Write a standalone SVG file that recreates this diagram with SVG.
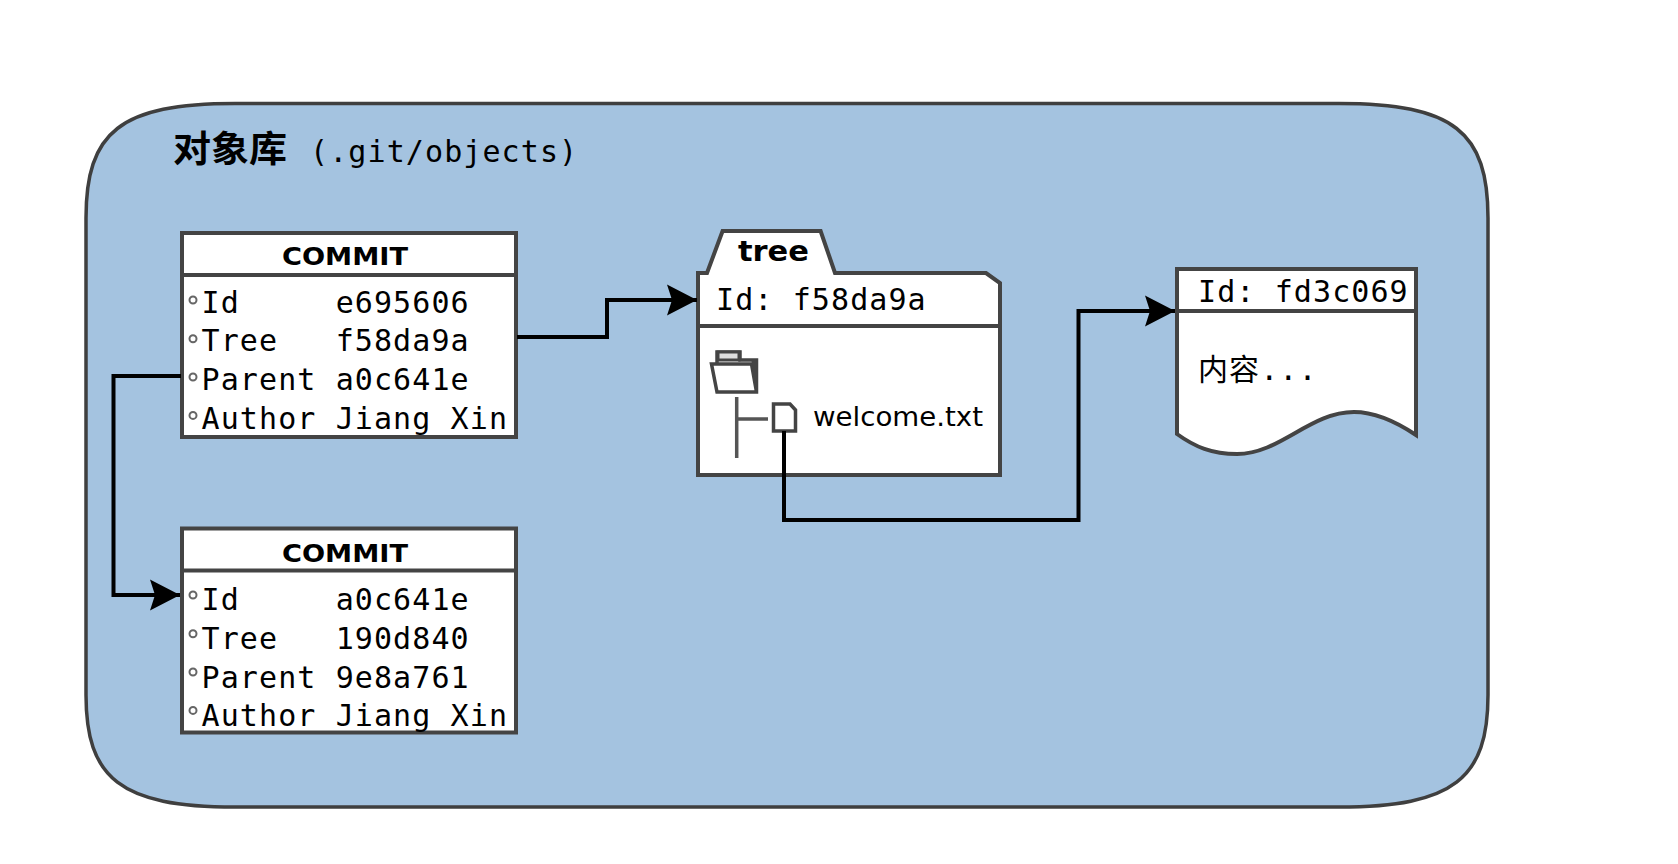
<svg xmlns="http://www.w3.org/2000/svg" width="1678" height="864" viewBox="0 0 1678 864">
<style>
.s{fill:#fff;stroke:#444;stroke-width:4;stroke-linejoin:miter}
.l{fill:none;stroke:#444;stroke-width:4}
.c{fill:none;stroke:#000;stroke-width:4;stroke-linejoin:miter}
.m{font-family:"DejaVu Sans Mono","Noto Sans CJK SC",monospace;font-size:30px;letter-spacing:1.1px;fill:#000;white-space:pre}
.h{font-family:"DejaVu Sans",sans-serif;font-weight:bold;fill:#000}
.d{fill:none;stroke:#666;stroke-width:2}
</style>
<defs>
<marker id="a" markerUnits="userSpaceOnUse" markerWidth="32" markerHeight="32" refX="31" refY="16" orient="auto">
<path d="M1,0.5 L31,16 L1,31.5 L6,16 Z" fill="#000"/>
</marker>
<g id="bullets">
<circle cx="193" cy="0" r="3.5" class="d"/><circle cx="193" cy="38.7" r="3.5" class="d"/><circle cx="193" cy="77" r="3.5" class="d"/><circle cx="193" cy="115.4" r="3.5" class="d"/>
</g>
</defs>
<rect width="1678" height="864" fill="#fff"/>
<g id="repo">
<path d="M235,103.5 H1339 C1454,103.5 1488,132 1488,218 V695 C1488,778 1454,807 1339,807 H235 C120,807 86,778 86,695 V218 C86,132 120,103.5 235,103.5 Z" fill="#a4c3e0" stroke="#3f3f3f" stroke-width="3.5"/>
<text x="173" y="162" font-family="'Noto Sans CJK SC',sans-serif" font-weight="700" font-size="36" textLength="114" lengthAdjust="spacingAndGlyphs" fill="#000">对象库</text>
<text x="310" y="162" class="m">(.git/objects)</text>
</g>
<g id="commit1">
<rect x="182" y="233" width="334" height="204" class="s"/>
<path d="M182,275 H516" class="l"/>
<text x="345" y="265" class="h" font-size="25" text-anchor="middle" textLength="126" lengthAdjust="spacingAndGlyphs">COMMIT</text>
<use href="#bullets" y="300"/>
<text x="201.5" y="313" class="m">Id     e695606</text>
<text x="201.5" y="351" class="m">Tree   f58da9a</text>
<text x="201.5" y="390" class="m">Parent a0c641e</text>
<text x="201.5" y="428.5" class="m">Author Jiang Xin</text>
</g>
<g id="commit2">
<rect x="182" y="528.5" width="334" height="204" class="s"/>
<path d="M182,570.5 H516" class="l"/>
<text x="345" y="562" class="h" font-size="25" text-anchor="middle" textLength="126" lengthAdjust="spacingAndGlyphs">COMMIT</text>
<use href="#bullets" y="595"/>
<text x="201.5" y="610" class="m">Id     a0c641e</text>
<text x="201.5" y="648.5" class="m">Tree   190d840</text>
<text x="201.5" y="687.5" class="m">Parent 9e8a761</text>
<text x="201.5" y="726" class="m">Author Jiang Xin</text>
</g>
<g id="tree">
<path d="M698,273 H707 L722.6,231 H820.6 L835,273 H986 L1000,283 V475 H698 Z" class="s"/>
<path d="M698,326 H1000" class="l"/>
<text x="738" y="261" class="h" font-size="29" textLength="71" lengthAdjust="spacingAndGlyphs">tree</text>
<text x="716" y="310" class="m">Id: f58da9a</text>
<path d="M717,364 V352 H740 V360 H756.5 V392 H717 L711.5,364 H751.5 L756.5,392" fill="#fff" stroke="#444" stroke-width="3.5"/>
<path d="M718,352 H739 V360 H718 Z" fill="#ddd" stroke="#444" stroke-width="3"/>
<path d="M751.5,361 H756 V390 Z" fill="#444"/>
<path d="M736.7,397 V458 M737,419 H768" fill="none" stroke="#555" stroke-width="3.5"/>
<path d="M773.5,404 H790 L795.5,410 V431 H773.5 Z" fill="#fff" stroke="#444" stroke-width="3.5"/>
<text x="813" y="426" font-family="'DejaVu Sans',sans-serif" font-size="26" textLength="170" lengthAdjust="spacingAndGlyphs" fill="#000">welcome.txt</text>
</g>
<g id="blob">
<path d="M1177,269 H1416 V435 C1395,421 1375,412 1354,412 C1310,412 1280,454 1237,454 C1212,454 1195,447 1177,434 Z" class="s"/>
<path d="M1177,311 H1416" class="l"/>
<text x="1198" y="301.7" class="m">Id: fd3c069</text>
<text x="1198" y="380" class="m">内容...</text>
</g>
<g id="connectors">
<path d="M517,337 H607 V300 H697" class="c" marker-end="url(#a)"/>
<path d="M181,376 H113.5 V595 H180" class="c" marker-end="url(#a)"/>
<path d="M784,431 V520 H1078.5 V311 H1175" class="c" marker-end="url(#a)"/>
</g>
</svg>
